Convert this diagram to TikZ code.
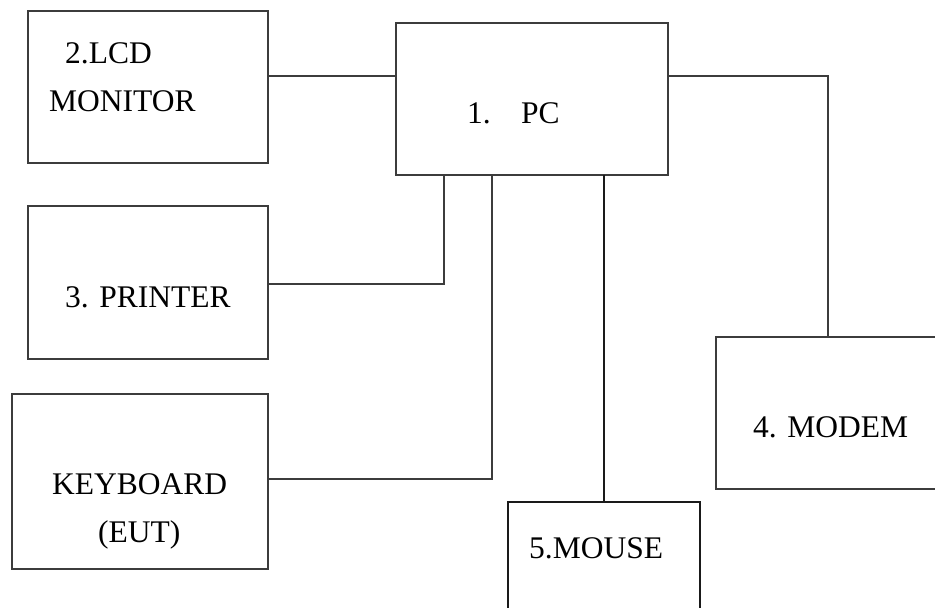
\documentclass[tikz,border=0pt]{standalone}
\usepackage{fontspec}
\setmainfont{Liberation Serif}
\definecolor{linegray}{HTML}{3C3C3C}
\definecolor{linedark}{HTML}{1A1A1A}
\begin{document}
\begin{tikzpicture}[x=1pt,y=-1pt,
  unit/.style={draw=linegray, line width=1.3pt, anchor=north west,
               inner sep=0pt, outer sep=0pt},
  wire/.style={draw=linegray, line width=1.3pt},
  lbl/.style={anchor=base west, inner sep=0pt, text=black,
              font=\fontsize{31.5}{37}\selectfont}]
  \useasboundingbox (0,0) rectangle (935,608);
  \clip (0,0) rectangle (935,608);

  % equipment boxes
  \node[unit, minimum width=240pt, minimum height=152pt] (lcd)      at (28,11)  {};
  \node[unit, minimum width=272pt, minimum height=152pt] (pc)       at (396,23) {};
  \node[unit, minimum width=240pt, minimum height=153pt] (printer)  at (28,206) {};
  \node[unit, minimum width=256pt, minimum height=175pt] (keyboard) at (12,394) {};
  \node[unit, minimum width=260pt, minimum height=152pt] (modem)    at (716,337) {};
  \node[unit, draw=linedark, minimum width=192pt, minimum height=140pt] (mouse) at (508,502) {};

  % labels
  \node[lbl] (t-lcd1) at (65,63)   {2.LCD};
  \node[lbl] (t-lcd2) at (49,111)  {MONITOR};
  \node[lbl] (t-pc1)  at (467,123) {1.};
  \node[lbl] (t-pc2)  at (521,123) {PC};
  \node[lbl] (t-prn)  at (65,307)  {3. PRINTER};
  \node[lbl] (t-kb1)  at (52,494)  {KEYBOARD};
  \node[lbl] (t-kb2)  at (98,542)  {(EUT)};
  \node[lbl] (t-mdm)  at (753,437) {4. MODEM};
  \node[lbl] (t-mse)  at (529,558) {5.MOUSE};

  % cable bends
  \coordinate (lcdy) at (0,76);
  \coordinate (prt)  at (444,284);
  \coordinate (kbd)  at (492,479);
  \coordinate (mse)  at (604,0);
  \coordinate (mdm)  at (828,76);

  % cables
  \draw[wire] (lcd.east |- lcdy) -- (pc.west |- lcdy);
  \draw[wire] (pc.south -| prt) -- (prt) -- (printer.east |- prt);
  \draw[wire] (pc.south -| kbd) -- (kbd) -- (keyboard.east |- kbd);
  \draw[wire, draw=linedark] (pc.south -| mse) -- (mouse.north -| mse);
  \draw[wire] (pc.east |- mdm) -- (mdm) -- (modem.north -| mdm);
\end{tikzpicture}
\end{document}
